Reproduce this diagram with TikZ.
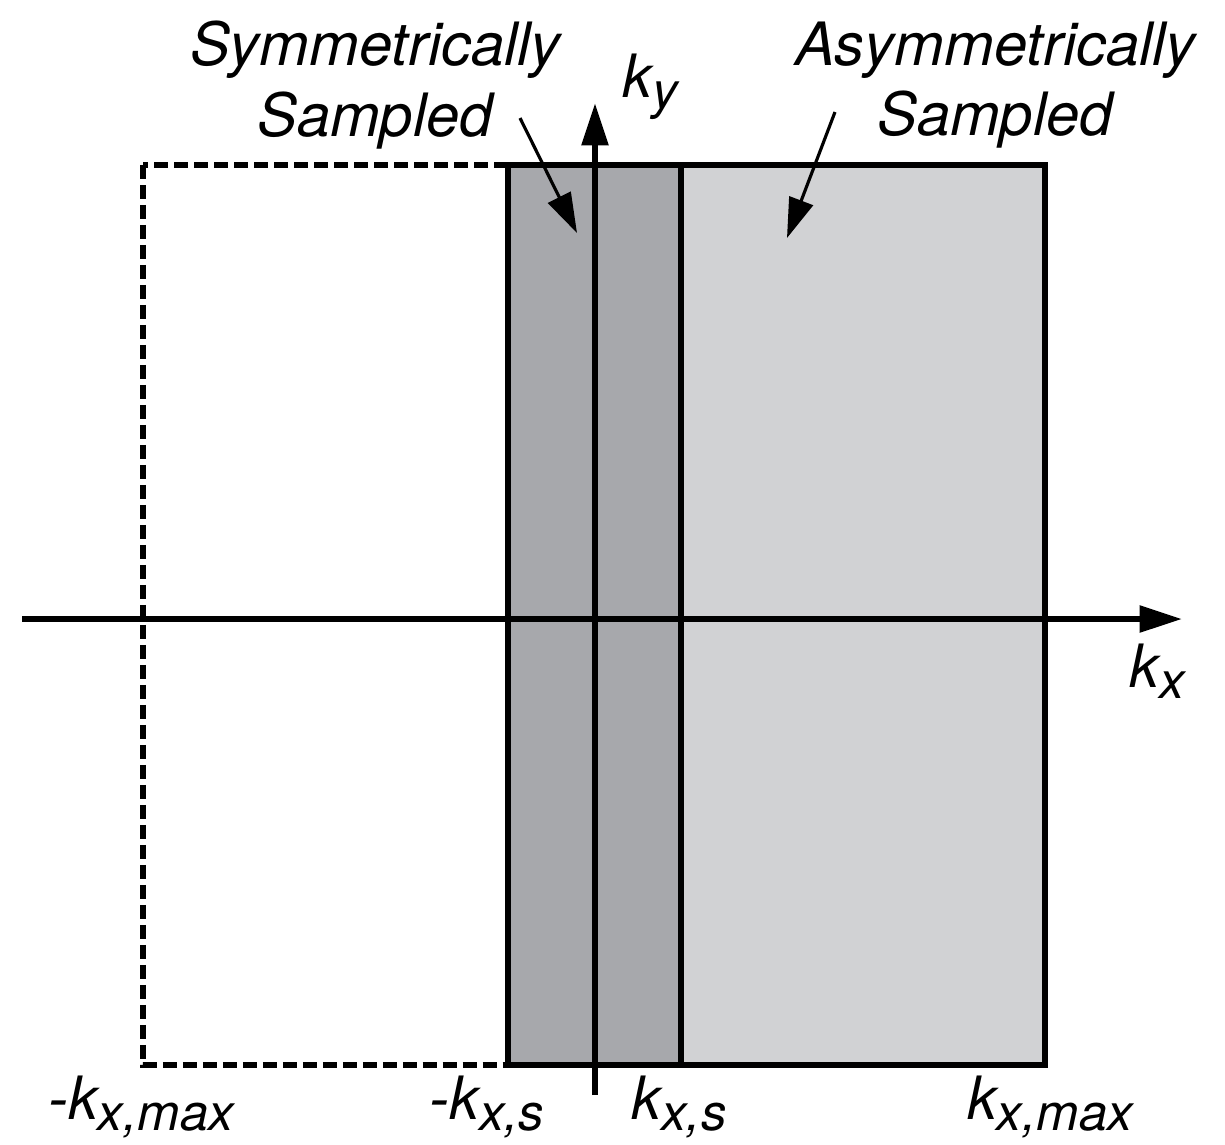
\documentclass[tikz,border=0pt]{standalone}
\usepackage{fontspec}
\setmainfont{TeX Gyre Heros}
\usetikzlibrary{arrows.meta,positioning}
\definecolor{SymGray}{RGB}{167,168,172}
\definecolor{AsymGray}{RGB}{209,210,212}
\newcommand{\ksub}[1]{\raisebox{-0.2em}{\fontsize{29}{34}\selectfont #1}}

\begin{document}
\begin{tikzpicture}[
  x=0.02cm, y=-0.02cm,
  frame/.style={draw=black, line width=3.4pt},
  axis/.style={line width=3.4pt, -{Triangle[length=0.85cm, width=0.52cm]}},
  pointer/.style={line width=1.8pt, -{Triangle[length=0.8cm, width=0.5cm]}},
  lbl/.style={font=\fontsize{34}{40}\selectfont\itshape, inner sep=0pt}
]
\useasboundingbox (0,0) rectangle (1225,1144);

% full k-space (dashed) and sampled parts
\draw[line width=3.6pt, dash pattern=on 0.28cm off 0.12cm] (143,165) rectangle (1045,1065);
\filldraw[frame, fill=SymGray] (508,165) rectangle (681,1065);
\filldraw[frame, fill=AsymGray] (681,165) rectangle (1045,1065);

% axes
\coordinate (xstart) at (22,619);
\coordinate (xend) at (1182,619);
\coordinate (ystart) at (595,1095);
\coordinate (yend) at (595,103);
\draw[axis] (xstart) -- (xend);
\draw[axis] (ystart) -- (yend);
\node[lbl, anchor=base] (kxlbl) at (1157,687) {k\ksub{x}};
\node[lbl, anchor=base] (kylbl) at (650,97) {k\ksub{y}};

% tick labels
\node[lbl, anchor=base] (kxmaxneg) at (141,1119) {-k\ksub{x,max}};
\node[lbl, anchor=base] (kxsneg) at (487,1119) {-k\ksub{x,s}};
\node[lbl, anchor=base] (kxspos) at (679,1119) {k\ksub{x,s}};
\node[lbl, anchor=base] (kxmaxpos) at (1050,1119) {k\ksub{x,max}};

% region labels
\node[lbl, align=center] (symtxt) at (375,85) {Symmetrically\\Sampled};
\node[lbl, align=center] (asymtxt) at (995,85) {Asymmetrically\\Sampled};
\coordinate (symtail) at (520,118);
\coordinate (symhead) at (577,233);
\coordinate (asymtail) at (835,112);
\coordinate (asymhead) at (787,238);
\draw[pointer] (symtail) -- (symhead);
\draw[pointer] (asymtail) -- (asymhead);
\end{tikzpicture}
\end{document}
